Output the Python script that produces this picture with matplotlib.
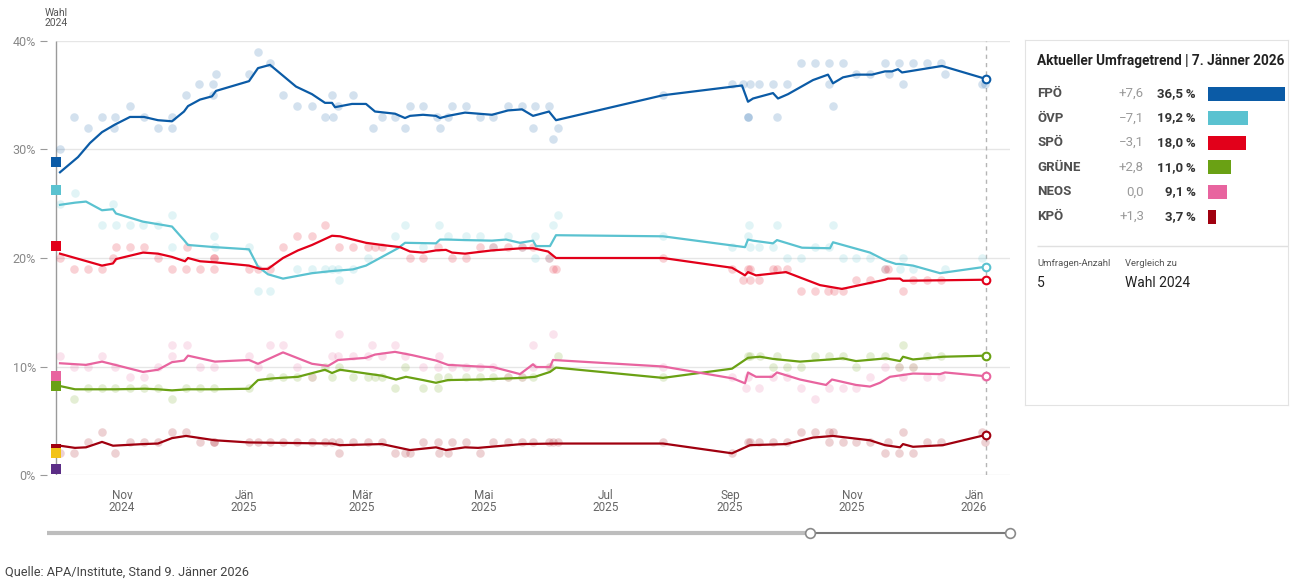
import matplotlib

matplotlib.use("Agg")
import matplotlib.pyplot as plt
import numpy as np

plt.rcParams["font.family"] = ["Roboto", "DejaVu Sans"]

# x values are days since the election (29 Sep 2024)
ELECTION_DATE = "2024-09-29"
LAST_DAY = 465  # 7. Jänner 2026

MONTH_TICKS = ["2024-11-01", "2025-01-01", "2025-03-01", "2025-05-01",
               "2025-07-01", "2025-09-01", "2025-11-01", "2026-01-01"]
MONTH_LABELS = ["Nov\n2024", "Jän\n2025", "Mär\n2025", "Mai\n2025",
                "Jul\n2025", "Sep\n2025", "Nov\n2025", "Jän\n2026"]
Y_TICKS = [0, 10, 20, 30, 40]

# election result 2024 (squares on the left)
WAHL_PARTIES = ["FPÖ", "ÖVP", "SPÖ", "NEOS", "GRÜNE", "KPÖ", "BIER", "LMP"]
WAHL_VALUES = [28.85, 26.27, 21.14, 9.14, 8.24, 2.39, 2.02, 0.58]

FPOE_TREND = [(2, 27.9), (11, 29.3), (17, 30.6), (23, 31.6), (29.5, 32.3), (37, 33.0), (44, 33.0),
              (51, 32.7), (58, 32.6), (64, 33.5), (66, 34.0), (72, 34.6), (78, 34.9), (80, 35.4),
              (96.5, 36.3), (101, 37.5), (107, 37.8), (120, 35.8), (128, 35.1), (134.5, 34.3),
              (138, 34.3), (139.5, 33.9), (148, 34.2), (155, 34.2), (159.5, 33.5), (169.5, 33.3),
              (174.5, 32.9), (177, 33.1), (183.5, 33.2), (190, 33.1), (192, 32.9), (196, 33.1),
              (204.5, 33.4), (218, 33.2), (226, 33.6), (233, 33.7), (238.5, 33.1), (246.5, 33.5),
              (250, 32.7), (303.5, 35.0), (343, 35.9), (346, 34.4), (348.5, 34.7), (358.5, 35.2),
              (361, 34.7), (366, 35.1), (378.5, 36.4), (386, 36.9), (388.5, 36.1), (393.5, 36.65),
              (400, 36.9), (408, 36.9), (414.5, 37.2), (418, 37.2), (421, 37.4), (423, 37.1),
              (443, 37.7), (465, 36.5)]
FPOE_POLLS = [(2, 30), (9, 33), (16, 32), (23, 33), (29.5, 33), (29, 32), (37, 34), (44, 33), (51, 32),
              (58, 33), (58, 32), (65, 35), (71.5, 36), (78.5, 36), (78.5, 35), (80, 37), (96.5, 37),
              (101, 39), (107, 38), (113.5, 35), (120.5, 34), (128, 34), (134.5, 33), (138.5, 33),
              (138, 35), (141, 34), (148.5, 35), (158.5, 32), (163, 33), (169.5, 33), (174.5, 32),
              (177, 34), (183.5, 34), (190.5, 33), (192, 32), (196, 33), (198, 34), (205, 34),
              (212, 33), (218.5, 33), (226, 34), (233, 34), (239.5, 34), (238.5, 32), (246.5, 34),
              (251, 32), (248.5, 31), (303.5, 35), (338, 36), (343.5, 36), (347, 36), (351.5, 36),
              (358.5, 36), (365.5, 36), (346, 33), (346, 33), (360.5, 33), (372.5, 38), (379.5, 38),
              (386.5, 38), (393.5, 38), (386.5, 36), (388.5, 34), (400, 37), (407, 37), (414.5, 38),
              (416.5, 37), (421.5, 38), (423.5, 36), (428.5, 38), (435.5, 38), (442.5, 38),
              (444.5, 37), (463, 36), (464.5, 36)]

OEVP_TREND = [(2, 24.9), (9.5, 25.1), (15, 25.2), (23, 24.4), (28.5, 24.5), (30, 24.1), (43.5, 23.35),
              (58, 22.9), (64, 21.65), (66, 21.2), (79.5, 21.0), (96.5, 20.8), (101, 19.2), (106, 18.5),
              (113.5, 18.1), (128, 18.6), (138, 18.8), (148.5, 18.95), (155, 19.3), (163, 20.1),
              (171, 20.9), (174.5, 21.4), (190, 21.35), (192, 21.7), (196, 21.7), (204.5, 21.65),
              (218, 21.6), (225, 21.7), (232, 21.4), (238.5, 21.6), (240, 21.1), (247, 21.1),
              (250, 22.1), (303.5, 22.0), (344.5, 21.0), (346, 21.7), (348.5, 21.6), (358.5, 21.35),
              (360.5, 21.65), (373, 20.95), (387, 20.9), (388.5, 21.45), (407, 20.5), (415, 19.75),
              (420, 19.45), (422, 19.45), (428.5, 19.3), (442, 18.6), (465, 19.2)]
OEVP_POLLS = [(2, 25), (9.5, 26), (28.5, 25), (23, 23), (30, 23), (37, 23), (43.5, 23), (51, 23),
              (58, 24), (58, 21), (79, 22), (79.5, 21), (96.5, 21), (101, 17), (107, 17), (120.5, 19),
              (128, 19), (134.5, 19), (138, 19), (141, 19), (141.5, 18), (148.5, 19), (156, 20),
              (169.5, 22), (174.5, 23), (183.5, 21), (191.5, 23), (196, 22), (205, 22), (212, 22),
              (218.5, 21), (226, 22), (233, 21), (239.5, 22), (239.5, 20), (248.5, 23), (251, 24),
              (246.5, 20), (303.5, 22), (338, 21), (346.5, 23), (346, 22), (347, 21), (351.5, 21),
              (358.5, 21), (360.5, 23), (365.5, 20), (372.5, 20), (379.5, 21), (386.5, 21),
              (388.5, 23), (393.5, 20), (400, 20), (407, 20), (414.5, 19), (422, 19), (423.5, 20),
              (428.5, 19), (444.5, 19), (463, 20)]

SPOE_TREND = [(2, 20.4), (23, 19.3), (28.5, 19.5), (30, 19.9), (43.5, 20.5), (51, 20.4), (58, 20.1),
              (64.5, 19.7), (66, 20.0), (72, 19.7), (79.5, 19.6), (96.5, 19.3), (102, 19.0), (106, 19.0),
              (113.5, 20.0), (121, 20.7), (128, 21.2), (138, 22.05), (142, 22.0), (155, 21.4),
              (163, 21.2), (172, 21.0), (177, 20.6), (183.5, 20.5), (190, 20.7), (195, 20.75),
              (198, 20.5), (204.5, 20.4), (218, 20.7), (233, 20.9), (238.5, 20.9), (246, 20.6),
              (250, 20.0), (303.5, 20.0), (338, 19.1), (344.5, 18.4), (346, 18.7), (350, 18.4),
              (365, 18.7), (382, 17.5), (393, 17.15), (414.5, 18.0), (416, 18.1), (422, 18.1),
              (423.5, 17.9), (465, 18.0)]
SPOE_POLLS = [(2, 20), (9, 19), (16, 19), (23, 19), (30, 21), (28.5, 20), (37, 21), (44, 21), (51, 20),
              (58, 19), (65.5, 21), (65, 19), (72, 19), (79, 20), (79, 20), (79, 19), (96.5, 19),
              (101, 19), (107, 19), (113.5, 21), (120.5, 22), (128, 22), (134.5, 23), (141.5, 21),
              (148.5, 21), (156, 21), (159.5, 21), (163, 21), (177, 20), (183.5, 20), (191, 21),
              (198, 20), (205, 20), (212, 21), (218.5, 21), (226, 21), (233, 21), (238.5, 21),
              (246.5, 20), (248.5, 19), (250, 19), (303.5, 20), (338, 19), (343.5, 18), (346, 19),
              (347, 19), (347, 18), (351.5, 18), (358.5, 19), (360.5, 19), (365.5, 19), (372.5, 17),
              (379.5, 17), (386, 17), (389, 17), (393.5, 17), (400, 18), (407, 18), (414.5, 19),
              (416, 19), (423.5, 17), (428.5, 18), (435.5, 18), (442.5, 18), (464.5, 18)]

GRUENE_TREND = [(2, 8.2), (9.5, 7.9), (29.5, 7.9), (44.5, 7.95), (51, 7.9), (58, 7.8), (66, 7.9),
                (79.5, 7.9), (96.5, 7.95), (101, 8.75), (108, 8.9), (121, 9.05), (134.5, 9.7),
                (138, 9.4), (142, 9.7), (163, 9.15), (170, 8.8), (175, 9.05), (183.5, 8.75), (190, 8.5),
                (196, 8.75), (211, 8.8), (233, 8.95), (239.5, 9.05), (247, 9.5), (250, 9.9),
                (303.5, 8.95), (338, 9.8), (346, 10.8), (352, 10.9), (358.5, 10.7), (372, 10.45),
                (387, 10.65), (393.5, 10.75), (400, 10.5), (415, 10.75), (422, 10.5), (423.5, 10.9),
                (428.5, 10.65), (443.5, 10.9), (465, 11.0)]
GRUENE_POLLS = [(9, 7), (16, 8), (23, 8), (29.5, 8), (37, 8), (44, 8), (51, 8), (58, 7), (65, 8), (72, 8),
                (79, 8), (96.5, 8), (107, 9), (113.5, 9), (120.5, 9), (128, 9), (134.5, 10), (141.5, 10),
                (138, 9), (148.5, 9), (156, 9), (159.5, 9), (163, 9), (169.5, 8), (174.5, 10),
                (183.5, 8), (191, 8), (191, 9), (196, 9), (205, 9), (212, 9), (218.5, 9), (226, 9),
                (233, 9), (238.5, 9), (247, 10), (251, 11), (303.5, 9), (346, 11), (347, 11), (352, 11),
                (360.5, 11), (358.5, 10), (365.5, 10), (372.5, 10), (379.5, 11), (386.5, 11),
                (393.5, 11), (400, 10), (407, 11), (414.5, 11), (421.5, 10), (423.5, 12), (428.5, 10),
                (435.5, 11), (442.5, 11), (464.5, 11)]

NEOS_TREND = [(2, 10.3), (15, 10.15), (23, 10.45), (28.5, 10.2), (43.5, 9.5), (51, 9.7), (58, 10.4),
              (64, 10.55), (66, 11.0), (79.5, 10.45), (96.5, 10.6), (101, 10.25), (113.5, 11.3),
              (128, 10.25), (136, 10.05), (141, 10.6), (155, 10.8), (159.5, 11.1), (169.5, 11.35),
              (178, 11.05), (190, 10.55), (196, 10.15), (211, 10.0), (218.5, 9.95), (232, 9.3),
              (238.5, 10.2), (240, 9.95), (247, 9.95), (248.5, 10.6), (303.5, 10.0), (338.5, 8.9),
              (344.5, 8.45), (346, 9.45), (350, 9.05), (358, 9.05), (360.5, 9.45), (372, 8.8),
              (385, 8.3), (388, 8.8), (400, 8.3), (407, 8.15), (412, 8.5), (417, 9.05), (428.5, 9.35),
              (442, 9.3), (444.5, 9.45), (465, 9.1)]
NEOS_POLLS = [(2, 11), (9, 10), (16, 10), (23, 11), (29.5, 10), (37, 9), (44, 9), (51, 10), (58, 12),
              (65.5, 12), (58, 11), (72, 10), (79, 10), (96.5, 11), (101, 10), (107, 12), (113.5, 12),
              (120.5, 10), (128, 9), (138, 11), (141, 11), (141.5, 13), (148.5, 11), (156, 11),
              (163, 11), (158, 12), (169.5, 12), (174.5, 11), (183.5, 10), (191.5, 11), (191, 10),
              (198, 10), (205, 10), (212, 10), (218.5, 10), (226, 9), (233, 9), (238.5, 12),
              (238.5, 10), (246.5, 10), (248.5, 13), (303.5, 10), (338, 9), (345, 8), (351.5, 8),
              (346, 9), (358.5, 9), (365.5, 9), (372.5, 8), (379.5, 7), (386.5, 8), (393.5, 8),
              (400, 8), (407, 9), (414.5, 10), (421.5, 10), (423.5, 9), (428.5, 10), (435.5, 9),
              (442.5, 9), (464.5, 9)]

KPOE_TREND = [(2, 2.7), (9.5, 2.5), (15, 2.55), (23, 3.05), (28.5, 2.7), (43.5, 2.85), (51, 2.9),
              (58, 3.4), (65, 3.6), (79.5, 3.2), (96.5, 3.0), (138, 2.9), (142, 2.75), (163, 2.85),
              (177, 2.3), (190, 2.55), (195, 2.3), (204.5, 2.55), (211, 2.5), (233, 2.85), (250, 2.9),
              (303.5, 2.9), (338, 2.0), (347, 2.75), (365, 2.85), (378.5, 3.45), (388.5, 3.6),
              (407, 3.2), (414.5, 2.75), (422, 2.55), (423.5, 2.85), (428.5, 2.6), (443.5, 2.75),
              (465, 3.7)]
KPOE_POLLS = [(2, 2), (9, 2), (16, 3), (23, 4), (29.5, 2), (37, 3), (44, 3), (51, 3), (58, 4), (65, 4),
              (72, 3), (79, 3), (79, 3), (96.5, 3), (101, 3), (107, 3), (113.5, 3), (120.5, 3),
              (128, 3), (134.5, 3), (138, 3), (141.5, 3), (148.5, 3), (156, 3), (163, 3), (141.5, 2),
              (169.5, 2), (174.5, 2), (177, 2), (183.5, 3), (191, 3), (198, 3), (205, 3), (191.5, 2),
              (196, 2), (212, 2), (218.5, 3), (226, 3), (233, 3), (238.5, 3), (246.5, 3), (248.5, 3),
              (251, 3), (303.5, 3), (338, 2), (346, 3), (347, 3), (351.5, 3), (358.5, 3), (365.5, 3),
              (372.5, 4), (379.5, 4), (386.5, 4), (388.5, 4), (386.5, 3), (393.5, 3), (400, 3),
              (407, 3), (414.5, 2), (416, 3), (421.5, 2), (423.5, 4), (428.5, 2), (435.5, 3),
              (442.5, 3), (463, 4), (464.5, 3)]

# side panel
PANEL_PARTIES = ["FPÖ", "ÖVP", "SPÖ", "GRÜNE", "NEOS", "KPÖ"]
PANEL_CURRENT = [36.5, 19.2, 18.0, 11.0, 9.1, 3.7]
PANEL_CHANGE = [7.6, -7.1, -3.1, 2.8, 0.0, 1.3]
POLL_COUNT = 5
SLIDER_START = "2025-10-11"

COLORS = {"FPÖ": "#0b5ba6", "ÖVP": "#5ac2d0", "SPÖ": "#e2001a", "GRÜNE": "#6aa114",
          "NEOS": "#e8649f", "KPÖ": "#a0000f", "BIER": "#f2c318", "LMP": "#5b2d86"}


def day_of(date_str):
    return float((np.datetime64(date_str) - np.datetime64(ELECTION_DATE)).astype(int))


def fmt_num(v, sign=False):
    s = f"{abs(v):.1f}".replace(".", ",")
    if sign and v > 0:
        return "+" + s
    if v < 0:
        return "\u2212" + s
    return s


W, H = 1292, 579
fig = plt.figure(figsize=(W / 100, H / 100), dpi=100)

X0, X1 = -4.5, 477
ax = fig.add_axes([47 / W, (H - 475) / H, 963 / W, 434 / H])
ax.set_xlim(X0, X1)
ax.set_ylim(0, 40)
for s in ax.spines.values():
    s.set_visible(False)

ax.hlines(Y_TICKS, 0, X1, color="#e6e6e6", lw=1, zorder=0)
ax.vlines(0, 0, 40, color="#9a9a9a", lw=1, zorder=1)
ax.vlines(LAST_DAY, 0, 40, color="#b5b5b5", lw=1, linestyles=(0, (3, 3)), zorder=1)

ax.set_yticks(Y_TICKS)
ax.set_yticklabels([f"{v}%" for v in Y_TICKS])
ax.tick_params(axis="y", length=5, color="#9a9a9a", labelcolor="#888888", labelsize=9, pad=3)
ax.set_xticks([day_of(d) for d in MONTH_TICKS])
ax.set_xticklabels(MONTH_LABELS, linespacing=0.95)
ax.tick_params(axis="x", length=0, labelcolor="#666666", labelsize=8.5, pad=10)

series = [("FPÖ", FPOE_TREND, FPOE_POLLS), ("ÖVP", OEVP_TREND, OEVP_POLLS),
          ("SPÖ", SPOE_TREND, SPOE_POLLS), ("GRÜNE", GRUENE_TREND, GRUENE_POLLS),
          ("NEOS", NEOS_TREND, NEOS_POLLS), ("KPÖ", KPOE_TREND, KPOE_POLLS)]

for name, trend, polls in series:
    pdays, pvals = zip(*polls)
    ax.scatter(pdays, pvals, s=38, color=COLORS[name], alpha=0.18, linewidths=0, zorder=2)

for name, trend, polls in series:
    tdays, tvals = zip(*trend)
    ax.plot(tdays, tvals, color=COLORS[name], lw=1.6, zorder=4, solid_joinstyle="round")
    ax.plot(tdays[-1], tvals[-1], "o", ms=5.5, mfc="white", mec=COLORS[name], mew=1.5, zorder=5)

for name, v in zip(WAHL_PARTIES, WAHL_VALUES):
    ax.scatter([0], [v], marker="s", s=42, color=COLORS[name], linewidths=0, zorder=6, clip_on=False)

ax.text(0, 41.2, "Wahl\n2024", ha="center", va="bottom", fontsize=7.5, color="#555555",
        linespacing=0.95)

# range slider below the chart
sax = fig.add_axes([47 / W, (H - 540) / H, 963 / W, 14 / H])
sax.set_xlim(X0, X1)
sax.set_ylim(-1, 1)
sax.axis("off")
xs = day_of(SLIDER_START)
sax.plot([X0, xs], [0, 0], color="#bdbdbd", lw=3, solid_capstyle="butt")
sax.plot([xs, X1], [0, 0], color="#7a7a7a", lw=1.5)
sax.plot([xs, X1], [0, 0], "o", ms=7, mfc="white", mec="#8a8a8a", mew=1.2, clip_on=False)

fig.text(5 / W, 1 - 572 / H, "Quelle: APA/Institute, Stand 9. Jänner 2026", fontsize=9.2,
         color="#444444", va="center")

# side panel (pixel coordinates, origin top-left of the box)
PW, PH = 263, 365
pax = fig.add_axes([1025 / W, (H - 40 - PH) / H, PW / W, PH / H])
pax.set_xlim(0, PW)
pax.set_ylim(PH, 0)
pax.set_xticks([])
pax.set_yticks([])
for s in pax.spines.values():
    s.set_color("#e3e3e3")

pax.text(12, 21, "Aktueller Umfragetrend | 7. Jänner 2026", fontsize=9.8, fontweight="bold",
         color="#222222", va="center")
row_y = 53.5 + 24.6 * np.arange(len(PANEL_PARTIES))
for y, name, cur, chg in zip(row_y, PANEL_PARTIES, PANEL_CURRENT, PANEL_CHANGE):
    pax.text(12, y, name, fontsize=9.5, fontweight="bold", color="#505050", va="center")
    pax.text(119, y, fmt_num(chg, sign=True), fontsize=9.5, color="#9a9a9a", va="center", ha="right")
    pax.text(171, y, fmt_num(cur) + "\u2009%", fontsize=9.5, fontweight="bold", color="#333333",
             va="center", ha="right")
pax.barh(row_y, [v * 2.1 for v in PANEL_CURRENT], left=183, height=14,
         color=[COLORS[p] for p in PANEL_PARTIES])

pax.hlines(206, 12, PW, color="#e0e0e0", lw=1)
pax.text(12, 223, "Umfragen-Anzahl", fontsize=6.8, color="#555555", va="center")
pax.text(100, 223, "Vergleich zu", fontsize=6.8, color="#555555", va="center")
pax.text(12, 243, str(POLL_COUNT), fontsize=10, color="#222222", va="center")
pax.text(100, 243, "Wahl 2024", fontsize=10, color="#222222", va="center")

fig.savefig("out.png", dpi=100)
